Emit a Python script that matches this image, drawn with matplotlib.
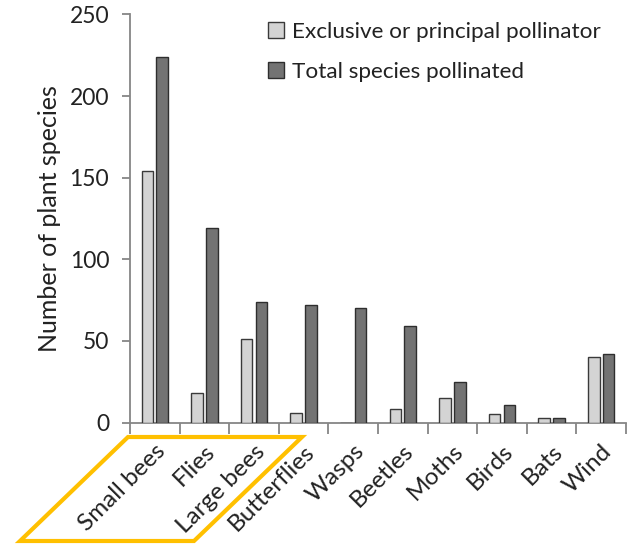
import matplotlib
matplotlib.use("Agg")
import matplotlib.pyplot as plt
import numpy as np
from matplotlib.patches import Polygon

categories = ["Small bees", "Flies", "Large bees", "Butterflies", "Wasps",
              "Beetles", "Moths", "Birds", "Bats", "Wind"]
exclusive = [154, 18, 51, 6, 0, 8, 15, 5, 3, 40]
total = [224, 119, 74, 72, 70, 59, 25, 11, 3, 42]
series_labels = ["Exclusive or principal pollinator", "Total species pollinated"]
yticks = [0, 50, 100, 150, 200, 250]

plt.rcParams['font.family'] = ['Lato', 'DejaVu Sans']

W, H = 641, 548
fig = plt.figure(figsize=(W / 100, H / 100), dpi=100)
ax = fig.add_axes([130 / W, 1 - 422.5 / H, (626 - 130) / W, (422.5 - 14.5) / H])

x = np.arange(len(categories))
bw = 0.235
off = 0.148
ax.bar(x - off, exclusive, bw, color="#d4d4d4", edgecolor="#3a3a3a", linewidth=1.0,
       label=series_labels[0], zorder=3)
ax.bar(x + off, total, bw, color="#737373", edgecolor="#2e2e2e", linewidth=1.0,
       label=series_labels[1], zorder=3)

ax.set_xlim(-0.5, len(categories) - 0.5)
ax.set_ylim(0, 250)
ax.set_yticks(yticks)
ax.tick_params(axis='y', labelsize=16.5, length=6, width=1.3, color="#868686",
               pad=9, labelcolor="#222222")

# x ticks at category boundaries, labels at centers
ax.set_xticks(np.arange(len(categories) + 1) - 0.5)
ax.set_xticklabels([])
ax.tick_params(axis='x', length=8, width=1.3, color="#868686", direction='out')
ax.set_xticks(x, minor=True)
ax.set_xticklabels(categories, minor=True, rotation=45, ha='right', va='top',
                   rotation_mode='anchor', fontsize=17.5, color="#222222")
ax.tick_params(axis='x', which='minor', length=0, pad=13)

for s in ['top', 'right']:
    ax.spines[s].set_visible(False)
for s in ['left', 'bottom']:
    ax.spines[s].set_color("#868686")
    ax.spines[s].set_linewidth(1.3)

ax.set_ylabel("Number of plant species", fontsize=18, color="#222222", labelpad=6)

leg = ax.legend(loc='upper left', bbox_to_anchor=((259 - 130) / (626 - 130), 1.0 + 2 / 408),
                frameon=False, fontsize=16.2, handlelength=0.7, handleheight=0.7,
                handletextpad=0.35, labelspacing=0.9, borderaxespad=0)
for t in leg.get_texts():
    t.set_color("#222222")

# yellow parallelogram highlight (figure pixel coordinates)
pts = [(128, 437), (302, 437), (194, 541), (20, 541)]
pts_fig = [(px / W, 1 - py / H) for px, py in pts]
poly = Polygon(pts_fig, closed=True, fill=False, edgecolor="#FFC000", linewidth=3.0,
               transform=fig.transFigure, joinstyle='miter', zorder=10)
fig.patches.append(poly)

fig.savefig("out.png", dpi=100)
